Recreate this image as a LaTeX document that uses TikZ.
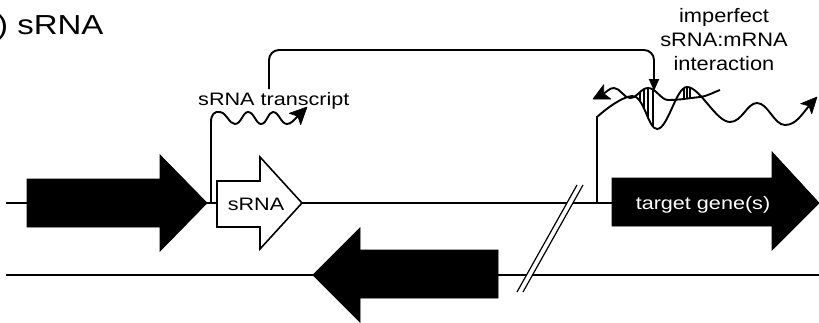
\documentclass[tikz,border=0pt]{standalone}
\usepackage{fontspec}
\setmainfont{Liberation Sans}
\usetikzlibrary{arrows.meta}
\newcommand\wide[1]{\scalebox{1.2}[1]{#1}}
\newcommand\wider[1]{\scalebox{1.12}[1]{#1}}
\def\srnacurve{(603.7,93.6) .. controls (607.3,91.8) and (609,88) .. (614,88) .. controls (620,88) and (624,98) .. (630,98) .. controls (637,98) and (641,88) .. (648,88) .. controls (656,88) and (661,100) .. (668,100) .. controls (680,100) and (690,98) .. (700,97) .. controls (708,96) and (714,92) .. (720,90)}
\def\mrnacurve{(597,117) .. controls (607,108) and (622,97) .. (632,96) .. controls (644,95) and (648,129) .. (657,129) .. controls (668,129) and (676,87) .. (687,87) .. controls (700,87) and (716,122) .. (730,122) .. controls (742,122) and (747,103) .. (757,103) .. controls (768,103) and (774,125) .. (785,125) .. controls (796,125) and (802,114) .. (809,106)}
\begin{document}
\begin{tikzpicture}[x=1pt,y=-1pt,
  strand/.style={line width=2pt},
  blackgene/.style={fill=black, draw=black, line width=0.8pt, line join=miter},
  whitegene/.style={fill=white, draw=black, line width=1.6pt, line join=miter},
  rna/.style={line width=1.9pt, line join=round},
  promoter/.style={line width=1.6pt},
  hatch/.style={line width=1.2pt},
  headfill/.style={fill=black, draw=black, line width=0.6pt, line join=round},
  lbl/.style={inner sep=0pt, font=\fontsize{18}{22}\selectfont},
  intlbl/.style={inner sep=0pt, font=\fontsize{19.5}{22}\selectfont},
  downtip/.style={-{Triangle[length=12pt 0,width=10pt 0]}},
]
\useasboundingbox (0,0) rectangle (819,322);

% strands
\draw[strand] (6,203) -- (612,203);
\draw[strand] (6,275) -- (819,275);

% genes
\filldraw[blackgene] (27,179) -- (160,179) -- (160,155) -- (207,203) -- (160,251) -- (160,227) -- (27,227) -- cycle;
\filldraw[whitegene] (217,181) -- (260,181) -- (260,157) -- (302,203) -- (260,249) -- (260,227) -- (217,227) -- cycle;
\filldraw[blackgene] (498,250) -- (360,250) -- (360,228) -- (313,275) -- (360,322) -- (360,298) -- (498,298) -- cycle;
\filldraw[blackgene] (612,178) -- (772,178) -- (772,152) -- (819,203) -- (772,250) -- (772,226) -- (612,226) -- cycle;

% break mark
\fill[white] (517,292) -- (577,185) -- (583,185) -- (523,292) -- cycle;
\draw[line width=1.2pt] (517,292) -- (577,185);
\draw[line width=1.2pt] (523,292) -- (583,185);

% labels
\node[inner sep=0pt, anchor=base west, font=\fontsize{27.5}{30}\selectfont] (title) at (-3,34) {\wide{) sRNA}};
\node[lbl, anchor=base west] (tr) at (198,105) {\wide{sRNA transcript}};
\node[lbl, anchor=base] (srnagene) at (256,210) {\wide{sRNA}};
\node[lbl, anchor=base, text=white] (target) at (703,209) {\wide{target gene(s)}};
\node[intlbl, anchor=base] (int1) at (724,22) {\wider{imperfect}};
\node[intlbl, anchor=base] (int2) at (724,46) {\wider{sRNA:mRNA}};
\node[intlbl, anchor=base] (int3) at (724,70) {\wider{interaction}};

% sRNA transcript from promoter 1
\draw[rna] (211,203) -- (211,122) .. controls (211,114) and (215,111) .. (220,112) .. controls (227,113) and (229,124) .. (235,124) .. controls (241,124) and (243,112) .. (248,112) .. controls (254,112) and (256,124) .. (261,124) .. controls (267,124) and (268,112) .. (273,112) .. controls (279,112) and (281,124) .. (287,124) .. controls (291,124) and (294,120) .. (297.8,116.2);
\filldraw[headfill] (307,107) -- (300.7,124.7) -- (297.8,116.2) -- (289.3,113.3) -- cycle;

% connector to interaction
\coordinate (c0) at (269,89);
\coordinate (c1) at (654,91);
\draw[rna, rounded corners=10pt, downtip] (c0) -- (c0 |- 0,50) -- (c1 |- 0,50) -- (c1);

% hatching region 1 (sRNA above, mRNA below)
\begin{scope}
  \clip \srnacurve -- (720,145) -- (598,145) -- cycle;
  \clip \mrnacurve -- (815,60) -- (597,60) -- cycle;
  \foreach \x in {640,644,648,653} \draw[hatch] (\x,80) -- (\x,140);
\end{scope}
% hatching region 2 (mRNA above, sRNA below)
\begin{scope}
  \clip \srnacurve -- (720,60) -- (598,60) -- cycle;
  \clip \mrnacurve -- (815,145) -- (597,145) -- cycle;
  \foreach \x in {684,687,690} \draw[hatch] (\x,80) -- (\x,140);
\end{scope}

% mRNA from promoter 2
\draw[promoter] (597,203) -- (597,116);
\draw[rna] \mrnacurve;
\filldraw[headfill] (817,97) -- (811.7,113.9) -- (808.9,105.8) -- (800.6,103.7) -- cycle;
% sRNA paired
\draw[rna] \srnacurve;
\filldraw[headfill] (593,99) -- (610.9,99.0) -- (603.7,93.6) -- (603.7,84.7) -- cycle;
\end{tikzpicture}
\end{document}
